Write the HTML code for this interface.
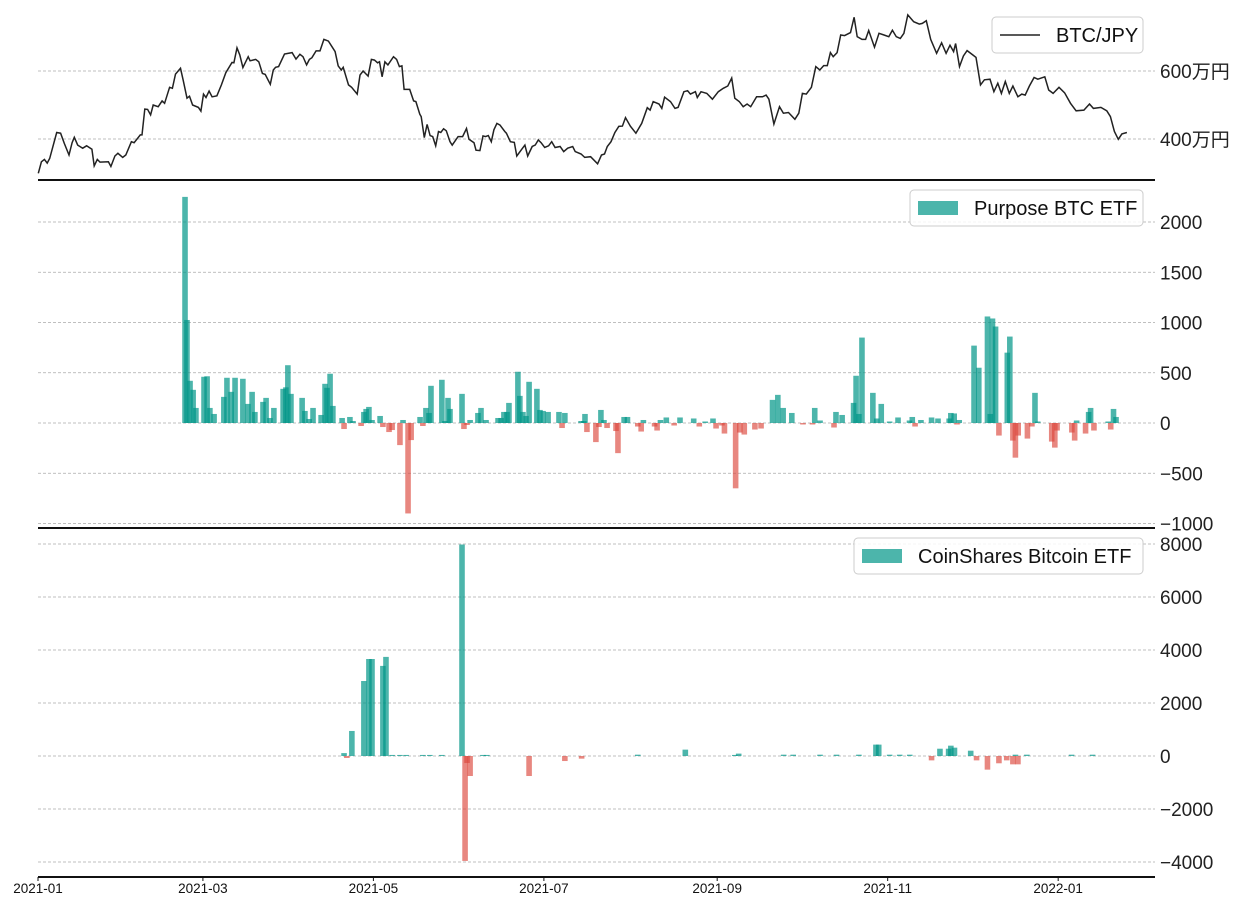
<!DOCTYPE html>
<html><head><meta charset="utf-8"><style>
body{margin:0;background:#fff;width:1246px;height:905px;overflow:hidden}
svg{display:block;font-family:"Liberation Sans","Noto Sans CJK JP",sans-serif}
</style></head><body>
<svg id="chart" width="1246" height="905" xmlns="http://www.w3.org/2000/svg"></svg>
<script>
// ---- data ----
const xTickLabels=["2021-01","2021-03","2021-05","2021-07","2021-09","2021-11","2022-01"];
const xTickDays=[0,59,120,181,243,304,365];
const btcDays=[0.1,1.2,2.3,3.3,4.2,6.7,8.1,9.4,11.1,12.2,13,14.2,16,17.4,19.3,20.1,21.2,22.2,25.2,26.1,27.5,28.6,30.3,31.4,33.4,34.4,36.6,37.2,38.2,39.2,40.3,41.2,43,44.4,45.3,47.1,48.1,49.2,51,51.9,53.3,54.2,55.3,57.4,58.3,59.2,60.1,61.2,62.3,64,65.6,67.2,69.4,70.1,71.2,72.2,73.3,75.2,75.9,77.9,79,80.3,81.3,83.1,84.2,85,86.1,88.2,90.9,92.3,93.7,94.8,96.1,97.1,98,99.5,100.9,102.3,103.9,106.3,107.4,108.5,109.2,111.1,112.2,114.2,115.2,116.3,118.1,119.3,120.4,121.5,122.2,123.1,124.1,125.2,127.2,128.3,129.3,130.2,131,133,134.4,135.2,136.6,137.1,138.2,139.2,140.3,141.2,142.3,143.3,144.1,145.1,146.1,147.4,148.2,150.3,151.9,153.3,154.2,156,156.7,158.1,159.2,160.1,161.1,162.2,163.1,164.2,165.3,167,167.6,169,170.4,171.3,173.1,174.2,175.2,176.8,177.9,179,180,181.3,182.7,183.8,185,186.8,188.1,189.5,191.3,192.2,194.3,195.6,197.7,
200.2,201.6,202.7,203.7,205,206.4,207.8,209.1,210.2,211.9,213.9,216,218,219,220.1,222.2,223.2,224.2,226.3,227.9,229,231.1,232.4,233.4,235.2,235.9,237.2,239.3,241.3,243.4,245.2,246.8,248.2,249.3,250.9,252.3,253.7,255,257.1,259.2,260.5,261.5,263.3,265.3,266.7,268.5,270.8,272.2,273.5,274.9,276.7,278.3,279.7,281.1,282.4,283.5,284.5,285.9,287.2,288.6,290.7,292,293.1,294.8,296.1,297.2,299.3,300.9,302.7,304.4,305.7,307.1,308.5,309.8,311.2,313.3,315.3,316.4,317.8,319.4,321.5,323.3,324.9,326.3,327.6,328.3,329.7,331.1,332.4,334.5,335.6,337.2,338.6,340.6,342,343.4,344.7,346.1,347.5,348.8,350.6,352,353.2,354.7,356.4,357.7,360.2,361.6,363.2,365.3,367.3,369.4,371.4,374.2,376.2,377.6,380.3,382.4,383.7,385.1,386.5,387.8,389.6];
const btcPrice=[299,333,340,329,343,419,417,387,353,389,405,382,373,380,370,321,340,332,333,319,350,358,346,353,392,389,412,412,488,487,471,500,495,512,505,552,549,591,608,574,520,526,500,493,482,532,522,541,524,527,559,595,625,624,668,647,610,642,630,634,627,593,590,561,603,611,613,650,654,635,649,642,618,634,639,659,659,693,688,657,615,603,611,559,552,532,588,600,585,634,632,624,627,583,627,618,642,634,613,615,546,546,512,510,473,466,404,443,410,407,380,422,419,430,424,392,382,407,407,431,399,389,367,366,409,407,410,392,427,446,441,422,417,392,390,350,370,382,350,378,382,397,389,375,380,392,375,378,363,373,378,363,356,346,348,
327,353,356,378,392,419,437,438,463,438,417,446,492,485,510,503,490,523,510,490,493,539,542,532,539,522,539,534,517,539,549,556,579,520,510,495,503,495,524,524,529,517,444,495,476,478,458,476,534,532,552,613,603,616,616,654,642,654,706,704,713,758,701,693,693,719,670,711,706,701,720,701,696,711,765,745,738,740,748,693,652,683,652,676,657,681,613,644,660,647,640,559,574,576,539,564,534,569,534,556,524,532,529,556,581,576,583,544,534,552,536,505,483,485,503,490,493,483,466,422,399,415,419];
const purposeDays=[52.6,53.3,54.4,55.5,56.5,59.4,60.5,61.5,63.0,66.5,67.6,69.1,70.5,73.3,75.1,76.6,77.6,80.5,81.6,83.0,84.4,87.7,88.7,89.4,90.5,94.5,95.5,97.0,98.4,101.3,102.7,103.4,104.5,105.5,108.8,109.5,111.6,112.7,115.6,116.6,117.4,118.4,119.5,122.4,123.4,125.6,126.7,129.5,130.6,132.4,133.5,136.7,137.7,138.8,139.9,140.6,144.5,145.6,146.7,147.4,151.7,152.4,153.5,154.6,157.4,158.5,160.3,164.6,165.7,166.7,167.8,168.5,171.7,172.4,173.5,174.6,175.7,178.5,179.6,180.7,182.5,186.4,187.5,188.5,194.3,195.3,195.7,196.4,199.6,200.7,201.4,202.5,203.6,206.8,207.5,
209.7,210.9,214.6,215.8,216.6,220.6,221.5,222.7,224.8,227.6,229.7,234.6,236.6,238.7,241.5,242.6,244.7,245.6,249.6,251.1,252.7,256.5,258.7,262.8,264.7,266.6,269.7,273.7,277.1,277.9,279.8,284.8,285.5,287.7,291.8,292.7,293.7,294.8,298.7,300.1,301.7,304.7,307.7,311.8,312.8,313.8,315.9,319.7,322,326,326.6,327.8,328.8,329.6,334.9,336.6,339.7,340.7,341.5,342.6,343.8,346.8,347.7,348.8,349.7,350.7,354,355.6,356.7,357.7,362.7,363.8,364.6,369.9,370.9,371.6,374.8,375.9,376.6,377.8,382.9,383.8,384.8,385.7];
const purposeFlow=[2250,1025,420,330,150,460,465,150,90,260,450,310,450,440,190,310,110,210,250,50,150,340,355,575,290,250,120,40,150,80,390,350,490,170,50,-60,60,20,-30,110,140,160,30,70,-40,-90,-70,-220,30,-900,-170,60,-30,150,100,370,430,20,250,140,290,-60,-20,30,100,150,30,50,50,110,110,200,510,270,110,70,410,340,130,120,110,110,-50,100,20,20,90,-90,-190,-40,130,30,-50,-80,-300,
60,60,-35,-85,30,-35,-75,30,55,-25,55,45,-35,15,45,-55,-25,-105,-650,-95,-115,-65,-55,230,280,150,100,-15,-15,150,25,-45,110,80,200,470,90,850,300,45,190,15,55,25,60,-35,30,55,45,45,100,95,-15,30,770,550,1060,90,1040,960,-125,700,860,-175,-345,-125,-155,-35,300,15,-185,-245,-75,-95,-175,25,-105,110,150,-75,15,-65,140,60];
const coinDays=[109.5,110.5,112.3,116.6,118.4,119.5,123.4,124.5,126.7,129.5,131.7,137.7,140.2,144.5,151.7,152.8,153.5,154.6,159.2,160.6,175.7,188.5,194.5,214.6,231.6,249.3,250.7,266.8,270.2,279.8,285.7,293.7,299.8,300.8,304.7,308.3,311.9,319.7,322.7,325.8,326.6,327.9,333.7,335.8,339.7,343.8,346.6,348.8,349.7,350.6,353.8,369.8,377.3];
const coinFlow=[110,-75,945,2830,3660,3660,3400,3740,40,40,40,40,40,40,7980,-3960,-265,-755,40,40,-755,-190,-100,50,240,40,90,50,50,50,50,50,430,430,50,50,50,-165,275,275,390,315,200,-165,-515,-275,-165,-315,50,-315,50,50,50];
const p1Ticks=[600,400], p1Labels=["600万円","400万円"];
const p2Ticks=[2000,1500,1000,500,0,-500,-1000];
const p3Ticks=[8000,6000,4000,2000,0,-2000,-4000];

// ---- scales ----
const X0=38,X1=1155,PXD=2.795;
const xs=d=>X0+d*PXD;
const y1=v=>71+(600-v)*0.34;
const y2=v=>423-v*0.1005;
const y3=v=>756-v*0.0265;
const NS="http://www.w3.org/2000/svg";
const svg=document.getElementById('chart');
function mk(tag,attrs,parent){const e=document.createElementNS(NS,tag);for(const k in attrs)e.setAttribute(k,attrs[k]);(parent||svg).appendChild(e);return e;}

function grid(ticks,ys,labels,name){
  ticks.forEach((t,i)=>{
    const g=mk('line',{x1:X0,x2:X1,y1:ys(t),y2:ys(t),stroke:'#aaa','stroke-width':0.8,'stroke-dasharray':'3,2'});
    
    
    const tx=mk('text',{x:1160,y:ys(t)+7,'font-size':19,fill:'#222'});
    tx.textContent=labels?labels[i]:String(t).replace('-','−');
    
    
  });
}
grid(p1Ticks,y1,p1Labels,'price-axis');
grid(p2Ticks,y2,null,'purpose-axis');
grid(p3Ticks,y3,null,'coinshares-axis');

// price line
const pts=btcDays.map((d,i)=>xs(d).toFixed(1)+','+y1(btcPrice[i]).toFixed(1)).join(' ');
const pl=mk('polyline',{points:pts,fill:'none',stroke:'#222','stroke-width':1.5});



function bars(days,vals,ys,name,clipTop){
  const W=2*PXD;
  days.forEach((d,i)=>{
    const v=vals[i];
    let a=ys(Math.max(v,0)),b=ys(Math.min(v,0));
    if(a<clipTop)a=clipTop;
    const r=mk('rect',{x:(xs(d)-W/2).toFixed(2),y:a.toFixed(2),width:W.toFixed(2),height:Math.max(0.8,b-a).toFixed(2),fill:v>=0?'rgba(0,150,136,0.7)':'rgba(220,70,60,0.65)'});
    
    
  });
}
bars(purposeDays,purposeFlow,y2,'purpose-flow',182);
bars(coinDays,coinFlow,y3,'coinshares-flow',530);

// spines
[[180,'price-panel-bottom-spine'],[528,'purpose-panel-bottom-spine'],[877,'x-axis-spine']].forEach(s=>{
  const l=mk('line',{x1:X0,x2:X1,y1:s[0],y2:s[0],stroke:'#111','stroke-width':2});
  
  
});
xTickDays.forEach((d,i)=>{
  const tk=mk('line',{x1:xs(d),x2:xs(d),y1:877,y2:881,stroke:'#111','stroke-width':1});
  
  
  const t=mk('text',{x:xs(d),y:893,'font-size':13.5,fill:'#111','text-anchor':'middle'});
  t.textContent=xTickLabels[i];
  
  
});

// legends
function legend(x,y,w,label,kind,name){
  const g=mk('g',{});
  
  
  mk('rect',{x:x,y:y,width:w,height:36,rx:4,fill:'rgba(255,255,255,0.85)',stroke:'#ccc'},g);
  if(kind==='line')mk('line',{x1:x+8,x2:x+48,y1:y+18,y2:y+18,stroke:'#222','stroke-width':1.5},g);
  else mk('rect',{x:x+8,y:y+11,width:40,height:14,fill:'rgba(0,150,136,0.7)'},g);
  const t=mk('text',{x:x+64,y:y+25,'font-size':20,fill:'#111'},g);
  t.textContent=label;
}
legend(992,17,151,'BTC/JPY','line','btc-legend');
legend(910,190,233,'Purpose BTC ETF','patch','purpose-legend');
legend(854,538,289,'CoinShares Bitcoin ETF','patch','coinshares-legend');
</script>
</body></html>
